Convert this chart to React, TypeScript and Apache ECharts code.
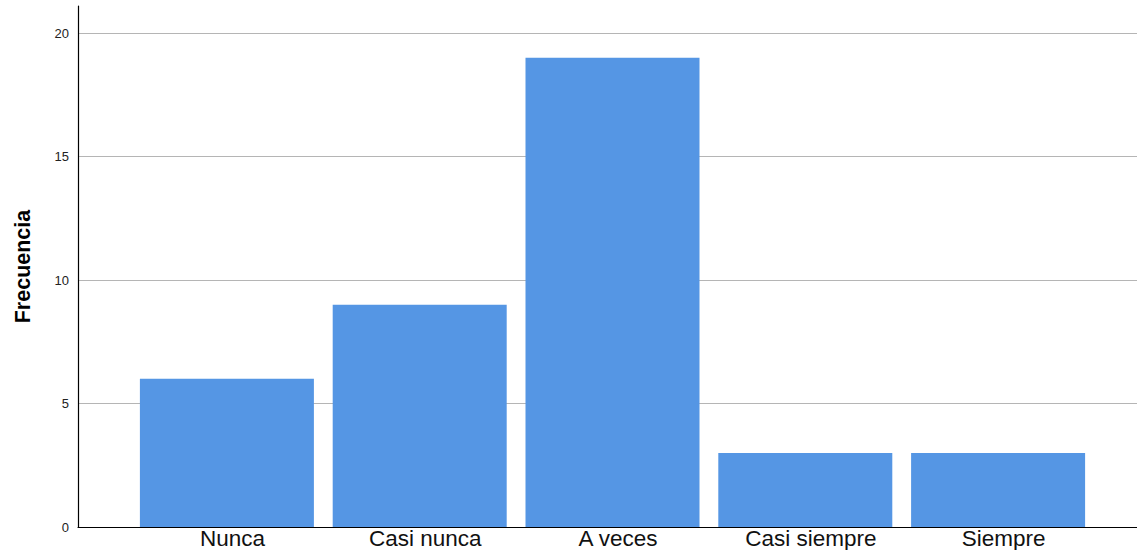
import React, { useEffect, useRef } from "react";
import * as echarts from "echarts";

const categories = ["Nunca", "Casi nunca", "A veces", "Casi siempre", "Siempre"];
const frecuencia = [6, 9, 19, 3, 3];
const yTicks = [0, 5, 10, 15, 20];

export default function App() {
  const ref = useRef<HTMLDivElement>(null);
  useEffect(() => {
    if (!ref.current) return;
    const chart = echarts.init(ref.current, null, { renderer: "svg" });
    const yMax = 21.1;
    chart.setOption({
      animation: false,
      grid: [
        { left: 78, right: 0, top: 6, bottom: 23 },
        { left: 130.5, width: 964, top: 6, bottom: 23 },
      ],
      xAxis: [
        {
          gridIndex: 0,
          type: "value",
          min: 0,
          max: 1,
          axisLine: { show: true, onZero: false, lineStyle: { color: "#000", width: 1.2 } },
          axisTick: { show: false },
          axisLabel: { show: false },
          splitLine: { show: false },
        },
        {
          gridIndex: 1,
          type: "category",
          data: categories,
          axisLine: { show: false },
          axisTick: { show: false },
          axisLabel: {
            fontSize: 22.5,
            color: "#111",
            fontFamily: "Liberation Sans, Arial, sans-serif",
            margin: 0,
            padding: [0, 0, 0, 11],
            interval: 0,
          },
        },
      ],
      yAxis: [
        {
          gridIndex: 0,
          type: "value",
          min: yTicks[0],
          max: yMax,
          interval: 5,
          name: "Frecuencia",
          nameLocation: "middle",
          nameRotate: 90,
          nameGap: 44,
          nameTextStyle: {
            fontSize: 21.5,
            fontWeight: "bold",
            color: "#000",
            fontFamily: "Liberation Sans, Arial, sans-serif",
          },
          axisLine: { show: true, lineStyle: { color: "#000", width: 1.2 } },
          axisTick: { show: false },
          axisLabel: {
            fontSize: 13,
            color: "#222",
            margin: 9,
            fontFamily: "Liberation Sans, Arial, sans-serif",
            showMaxLabel: false,
            formatter: (v: number) => (yTicks.includes(v) ? String(v) : ""),
          },
          splitLine: {
            show: true,
            showMinLine: false,
            showMaxLine: false,
            lineStyle: { color: "#b5b5b5", width: 1 },
          },
        },
        {
          gridIndex: 1,
          type: "value",
          min: yTicks[0],
          max: yMax,
          show: false,
          splitLine: { show: false },
        },
      ],
      series: [
        {
          type: "bar",
          xAxisIndex: 1,
          yAxisIndex: 1,
          data: frecuencia,
          barWidth: 174,
          itemStyle: { color: "#5596e4" },
        },
      ],
    });
    return () => chart.dispose();
  }, []);
  return (
    <div
      ref={ref}
      style={{ position: "fixed", left: 0, top: 0, width: 1137, height: 550, background: "#fff" }}
    />
  );
}
